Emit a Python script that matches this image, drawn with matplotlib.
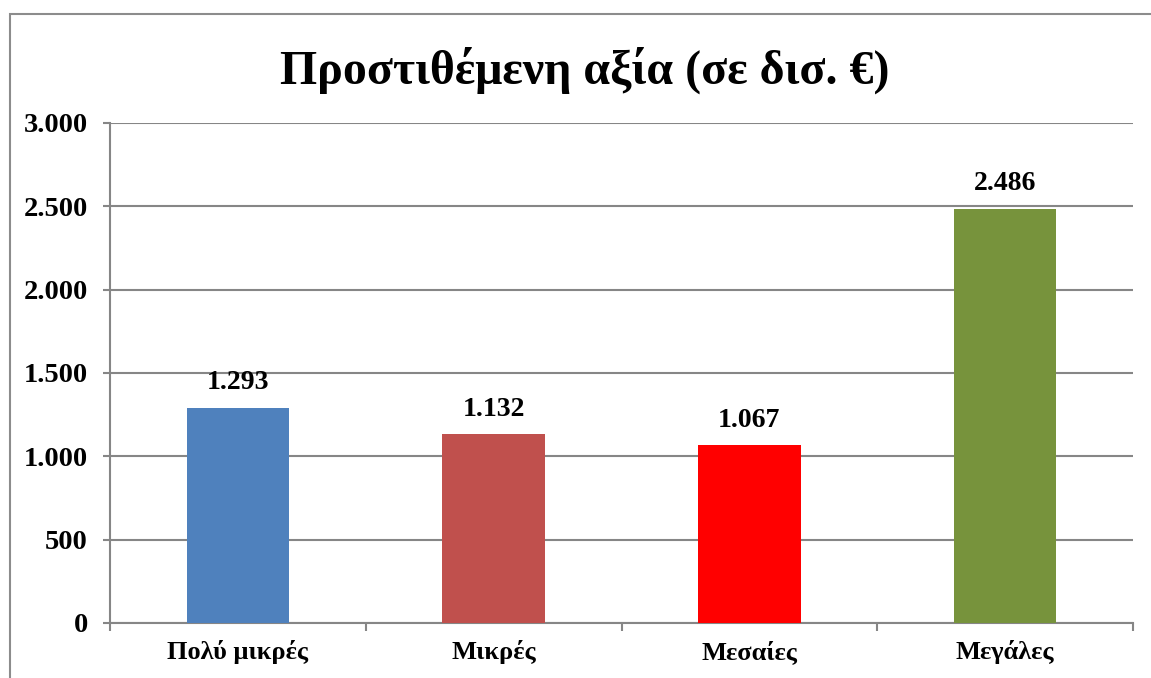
import matplotlib.pyplot as plt
from matplotlib.patches import Rectangle
from matplotlib.ticker import FuncFormatter, MultipleLocator
import numpy as np

categories = ['Πολύ μικρές', 'Μικρές', 'Μεσαίες', 'Μεγάλες']
values = [1293, 1132, 1067, 2486]
colors = ['#4F81BD', '#C0504D', '#FF0000', '#77933C']
title = 'Προστιθέμενη αξία (σε δισ. €)'

def dotfmt(v, pos=None):
    return f"{int(round(v)):,}".replace(',', '.')

plt.rcParams['font.family'] = ['Liberation Serif', 'DejaVu Serif']
plt.rcParams['font.weight'] = 'bold'

fig = plt.figure(figsize=(11.51, 6.78), dpi=100)
ax = fig.add_axes([110/1151, 1-623/678, (1133-110)/1151, 500/678])

# outer frame of the chart (cut off at right and bottom)
fig.patches.append(Rectangle((10/1151, -0.1), 1.2, 1.1-14/678, transform=fig.transFigure,
                             fill=False, edgecolor='#8c8c8c', linewidth=1.5))

x = np.arange(len(categories))
ax.bar(x, values, width=0.40, color=colors, zorder=3)
for xi, v in zip(x, values):
    ax.annotate(dotfmt(v), (xi, v), xytext=(0, 18), textcoords='offset points',
                ha='center', va='center', fontsize=20, fontweight='bold')

ax.set_xlim(-0.5, len(categories) - 0.5)
ax.set_ylim(0, 3000)
ax.yaxis.set_major_locator(MultipleLocator(500))
ax.yaxis.set_major_formatter(FuncFormatter(dotfmt))
ax.grid(axis='y', color='#868686', linewidth=1.5, zorder=0)

ax.set_xticks(x)
ax.set_xticklabels(categories, fontsize=19, fontweight='bold')
ax.set_xticks(np.arange(len(categories) + 1) - 0.5, minor=True)
ax.tick_params(axis='x', which='major', length=0, pad=12)
ax.tick_params(axis='x', which='minor', length=6, width=1.5, color='#868686', direction='out')
ax.tick_params(axis='y', length=5, width=1.5, color='#868686', labelsize=20.5, pad=11)
for lab in ax.get_yticklabels():
    lab.set_fontweight('bold')

for s in ['top', 'right']:
    ax.spines[s].set_visible(False)
for s in ['left', 'bottom']:
    ax.spines[s].set_color('#868686')
    ax.spines[s].set_linewidth(1.5)

fig.text(585/1151, 1 - 70/678, title, ha='center', va='center', fontsize=34.5, fontweight='bold')

fig.savefig('out.png', dpi=100)
